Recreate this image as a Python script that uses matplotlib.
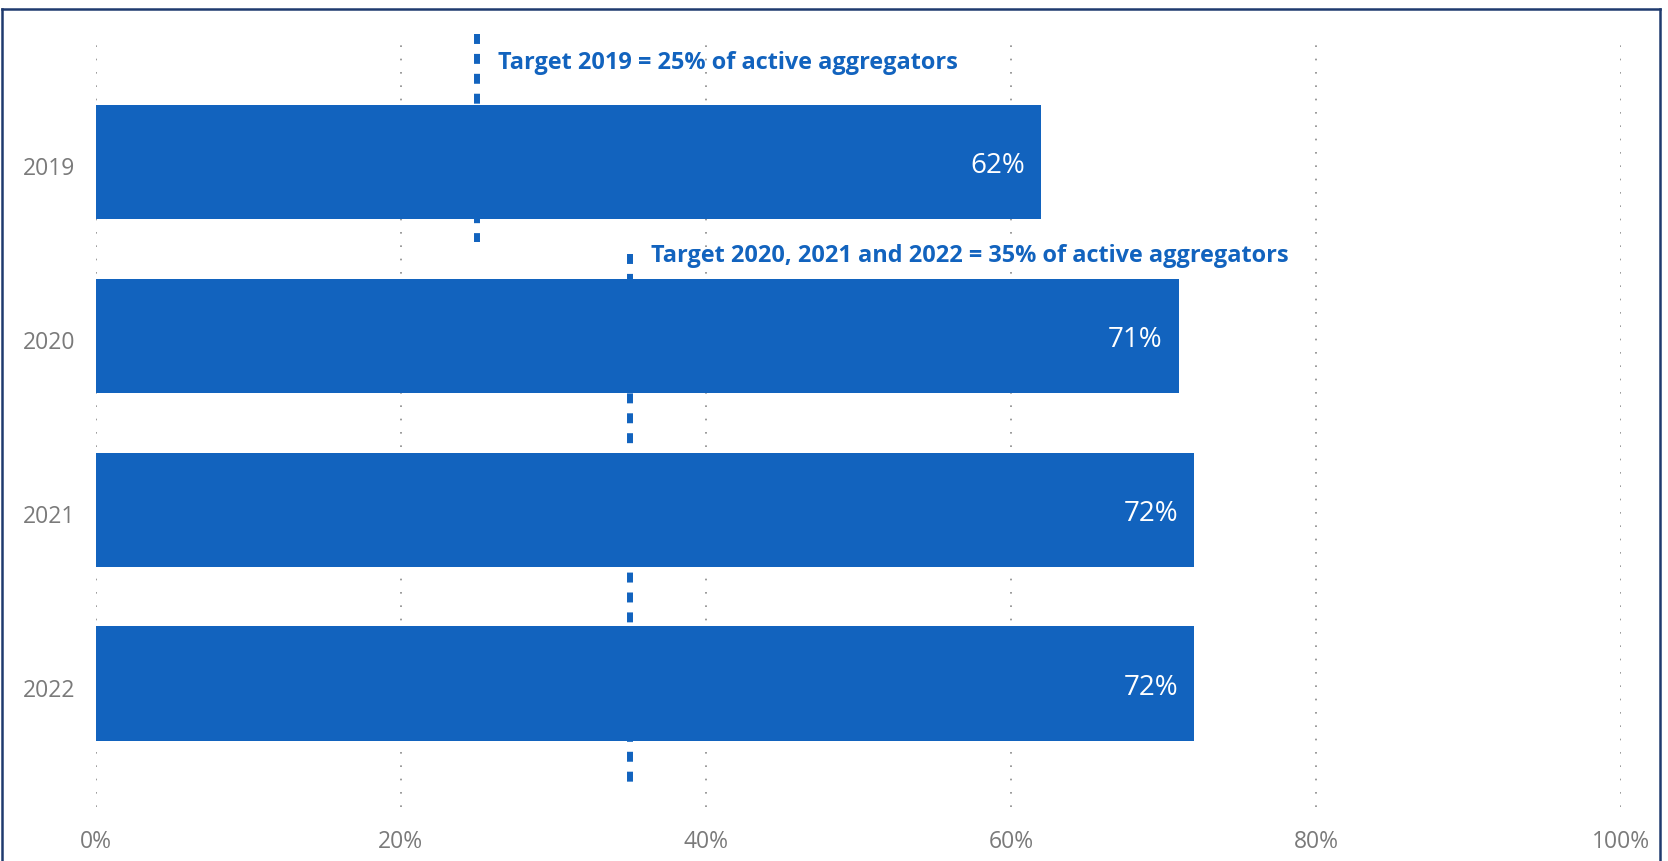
import matplotlib
matplotlib.use("Agg")
import matplotlib.pyplot as plt
from matplotlib.lines import Line2D
import numpy as np

years = ["2019", "2020", "2021", "2022"]
shares = [62, 71, 72, 72]          # % of active aggregators
target_2019 = 25
target_later = 35
xticks = [0, 20, 40, 60, 80, 100]

blue = "#1263be"
grey = "#7a7a7a"
navy = "#1f3a6e"

plt.rcParams["font.family"] = ["Open Sans", "DejaVu Sans"]

fig = plt.figure(figsize=(16.68, 8.62), dpi=100)
ax = fig.add_axes([0.0574, 0.0626, 0.9145, 0.893])

y = np.arange(len(years))
ax.barh(y, shares, height=0.656, color=blue, zorder=3)

# target markers, drawn under the bars
dash = (0, (1.667, 1.667))
ax.vlines(target_2019, -0.735, 0.46, colors=blue, linewidth=4.3,
          linestyles=dash, zorder=2, clip_on=False)
ax.vlines(target_later, 0.533, 3.573, colors=blue, linewidth=4.3,
          linestyles=dash, zorder=2, clip_on=False)

ax.text(target_2019 + 1.4, -0.57, f"Target 2019 = {target_2019}% of active aggregators",
        color=blue, fontsize=16.9, fontweight="bold", va="center", ha="left")
ax.text(target_later + 1.4, 0.535,
        f"Target 2020, 2021 and 2022 = {target_later}% of active aggregators",
        color=blue, fontsize=16.9, fontweight="bold", va="center", ha="left")

for yi, v in zip(y, shares):
    ax.text(v - 1.05, yi + 0.02, f"{v}%", color="white", fontsize=20,
            va="center", ha="right", zorder=4)

ax.set_xlim(0, 100)
ax.set_ylim(3.71, -0.715)
ax.set_xticks(xticks)
ax.set_xticklabels([f"{t}%" for t in xticks])
ax.set_yticks(y + 0.02)
ax.set_yticklabels(years)
ax.tick_params(axis="both", length=0, labelcolor=grey, labelsize=16.5)
ax.tick_params(axis="y", pad=14.5)
ax.tick_params(axis="x", pad=16)

ax.grid(axis="x", color="#8a8a8a", linewidth=1.2, linestyle=(0, (1, 7)), zorder=0)
ax.grid(axis="y", visible=False)
for s in ax.spines.values():
    s.set_visible(False)

# outer box (top, left and right edges)
W, H = 1668, 862
for xs, ys in [((2 / W, 1659.5 / W), (1 - 10 / H, 1 - 10 / H)),
               ((2 / W, 2 / W), (0, 1 - 10 / H)),
               ((1659.5 / W, 1659.5 / W), (0, 1 - 10 / H))]:
    fig.add_artist(Line2D(xs, ys, color=navy, linewidth=1.8))

fig.savefig("out.png", dpi=100)
